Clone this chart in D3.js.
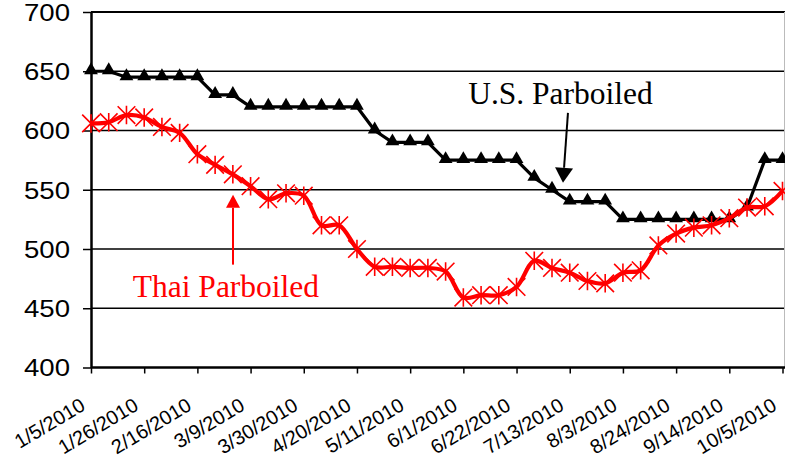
<!DOCTYPE html>
<html>
<head>
<meta charset="utf-8">
<script src="https://cdn.jsdelivr.net/npm/d3@7"></script>
<style>
  html, body { margin: 0; padding: 0; background: #fff; }
  svg { display: block; }
  .sans { font-family: "Liberation Sans", Arimo, Arial, sans-serif; }
  .serif { font-family: "Liberation Serif", Tinos, "Times New Roman", serif; }
</style>
</head>
<body>
<svg id="chart" width="785" height="457"></svg>
<script>
// ---- data ----
const dates = ["1/5/2010","1/12/2010","1/19/2010","1/26/2010","2/2/2010","2/9/2010","2/16/2010","2/23/2010",
  "3/2/2010","3/9/2010","3/16/2010","3/23/2010","3/30/2010","4/6/2010","4/13/2010","4/20/2010","4/27/2010",
  "5/4/2010","5/11/2010","5/18/2010","5/25/2010","6/1/2010","6/8/2010","6/15/2010","6/22/2010","6/29/2010",
  "7/6/2010","7/13/2010","7/20/2010","7/27/2010","8/3/2010","8/10/2010","8/17/2010","8/24/2010","8/31/2010",
  "9/7/2010","9/14/2010","9/21/2010","9/28/2010","10/5/2010"];
const usParboiled = [650,650,645,645,645,645,645,630,630,620,620,620,620,620,620,620,600,590,590,590,
  575,575,575,575,575,560,550,540,540,540,525,525,525,525,525,525,525,535,575,575];
const thaiParboiled = [606,607,613,611,603,598,580,571,563,553,542,547,545,520,520,500,485,485,484,484,
  481,459,461,461,468,490,484,480,473,471,480,482,503,513,518,520,526,535,536,549];
const xTickLabels = ["1/5/2010","1/26/2010","2/16/2010","3/9/2010","3/30/2010","4/20/2010","5/11/2010",
  "6/1/2010","6/22/2010","7/13/2010","8/3/2010","8/24/2010","9/14/2010","10/5/2010"];
const yTicks = [400,450,500,550,600,650,700];
const usLabel = "U.S. Parboiled";
const thaiLabel = "Thai Parboiled";

// ---- layout ----
const svg = d3.select("#chart");
const mLeft = 91, mRight = 782.5, mTop = 12, mBottom = 367.5, plotRight = 785;

const x = d3.scalePoint().domain(dates).range([mLeft, mRight]).padding(0);
const xi = d3.scaleLinear().domain([0, dates.length - 1]).range([mLeft, mRight]); // for annotations
const y = d3.scaleLinear().domain([400, 700]).range([mBottom, mTop]);

// gridlines
svg.append("g").selectAll("line").data(yTicks.filter(v => v > 400)).join("line")
  .attr("x1", mLeft).attr("x2", plotRight)
  .attr("y1", d => y(d)).attr("y2", d => y(d))
  .attr("stroke", "#000").attr("stroke-width", d => d === 700 ? 2.2 : 1.4);
// right border
svg.append("line").attr("x1", 784.5).attr("x2", 784.5).attr("y1", mTop).attr("y2", mBottom)
  .attr("stroke", "#bbb").attr("stroke-width", 1);

// y axis
const yAxis = svg.append("g").attr("transform", `translate(${mLeft},0)`)
  .call(d3.axisLeft(y).tickValues(yTicks).tickSize(8).tickPadding(13).tickSizeOuter(0));
yAxis.attr("font-family", null).attr("font-size", null);
yAxis.select(".domain").attr("stroke", "#000").attr("stroke-width", 2.5);
yAxis.selectAll(".tick line").attr("stroke", "#000").attr("stroke-width", 1.5);
yAxis.selectAll(".tick text")
  .attr("class", "sans").style("font-size", "23px")
  .attr("fill", "#000").attr("textLength", 46).attr("lengthAdjust", "spacingAndGlyphs")
  .attr("dy", "0.36em");

// x axis
const xAxis = svg.append("g").attr("transform", `translate(0,${mBottom})`)
  .call(d3.axisBottom(x).tickValues(xTickLabels).tickSize(6).tickSizeOuter(0));
xAxis.attr("font-family", null).attr("font-size", null);
xAxis.select(".domain").attr("stroke", "#000").attr("stroke-width", 2.5)
  .attr("d", `M${mLeft},0H${plotRight}`);
xAxis.selectAll(".tick line").attr("stroke", "#000").attr("stroke-width", 1.5);
xAxis.selectAll(".tick text")
  .attr("class", "sans").style("font-size", "20px")
  .attr("fill", "#000").attr("text-anchor", "end")
  .attr("y", 0).attr("dy", 0)
  .attr("transform", "translate(-5,41.5) rotate(-31)");

// US line
const lineStraight = d3.line().x((d, i) => x(dates[i])).y(d => y(d));
svg.append("path").datum(usParboiled)
  .attr("d", lineStraight).attr("fill", "none").attr("stroke", "#000").attr("stroke-width", 3.2)
  .attr("stroke-linejoin", "round");
const tri = d3.symbol().type(d3.symbolTriangle).size(82);
svg.append("g").selectAll("path").data(usParboiled).join("path")
  .attr("d", tri)
  .attr("transform", (d, i) => `translate(${x(dates[i])},${y(d) - 1})`)
  .attr("fill", "#000");

// Thai line (smoothed)
const lineSmooth = d3.line().x((d, i) => x(dates[i])).y(d => y(d)).curve(d3.curveCatmullRom.alpha(0.5));
svg.append("path").datum(thaiParboiled)
  .attr("d", lineSmooth).attr("fill", "none").attr("stroke", "#ff0000").attr("stroke-width", 4.2)
  .attr("stroke-linejoin", "round");
const s = 8.8;
const star = `M${-s},${-s}L${s},${s}M${-s},${s}L${s},${-s}M0,${-s * 1.05}L0,${s * 1.05}`;
svg.append("g").selectAll("path").data(thaiParboiled).join("path")
  .attr("d", star)
  .attr("transform", (d, i) => `translate(${x(dates[i])},${y(d)})`)
  .attr("fill", "none").attr("stroke", "#ff0000").attr("stroke-width", 1.6);

// annotations
function arrow(x1, y1, x2, y2, color, headLen, headHalf) {
  const ang = Math.atan2(y2 - y1, x2 - x1);
  const bx = x2 - headLen * Math.cos(ang), by = y2 - headLen * Math.sin(ang);
  svg.append("line").attr("x1", x1).attr("y1", y1).attr("x2", bx).attr("y2", by)
    .attr("stroke", color).attr("stroke-width", 2);
  const px = -Math.sin(ang) * headHalf, py = Math.cos(ang) * headHalf;
  svg.append("path")
    .attr("d", `M${x2},${y2}L${bx + px},${by + py}L${bx - px},${by - py}Z`)
    .attr("fill", color);
}
svg.append("text").attr("x", xi(26.48)).attr("y", y(622.5))
  .attr("text-anchor", "middle").attr("class", "serif").style("font-size", "31.5px")
  .attr("fill", "#000").text(usLabel);
arrow(xi(26.9), y(614.9), xi(26.62), y(555.9), "#000", 15, 9);

svg.append("text").attr("x", xi(7.61)).attr("y", y(459.8))
  .attr("text-anchor", "middle").attr("class", "serif").style("font-size", "31.5px")
  .attr("fill", "#ff0000").text(thaiLabel);
arrow(xi(8.01), y(486.8), xi(8.01), y(545.8), "#ff0000", 13, 7);
</script>
</body>
</html>
